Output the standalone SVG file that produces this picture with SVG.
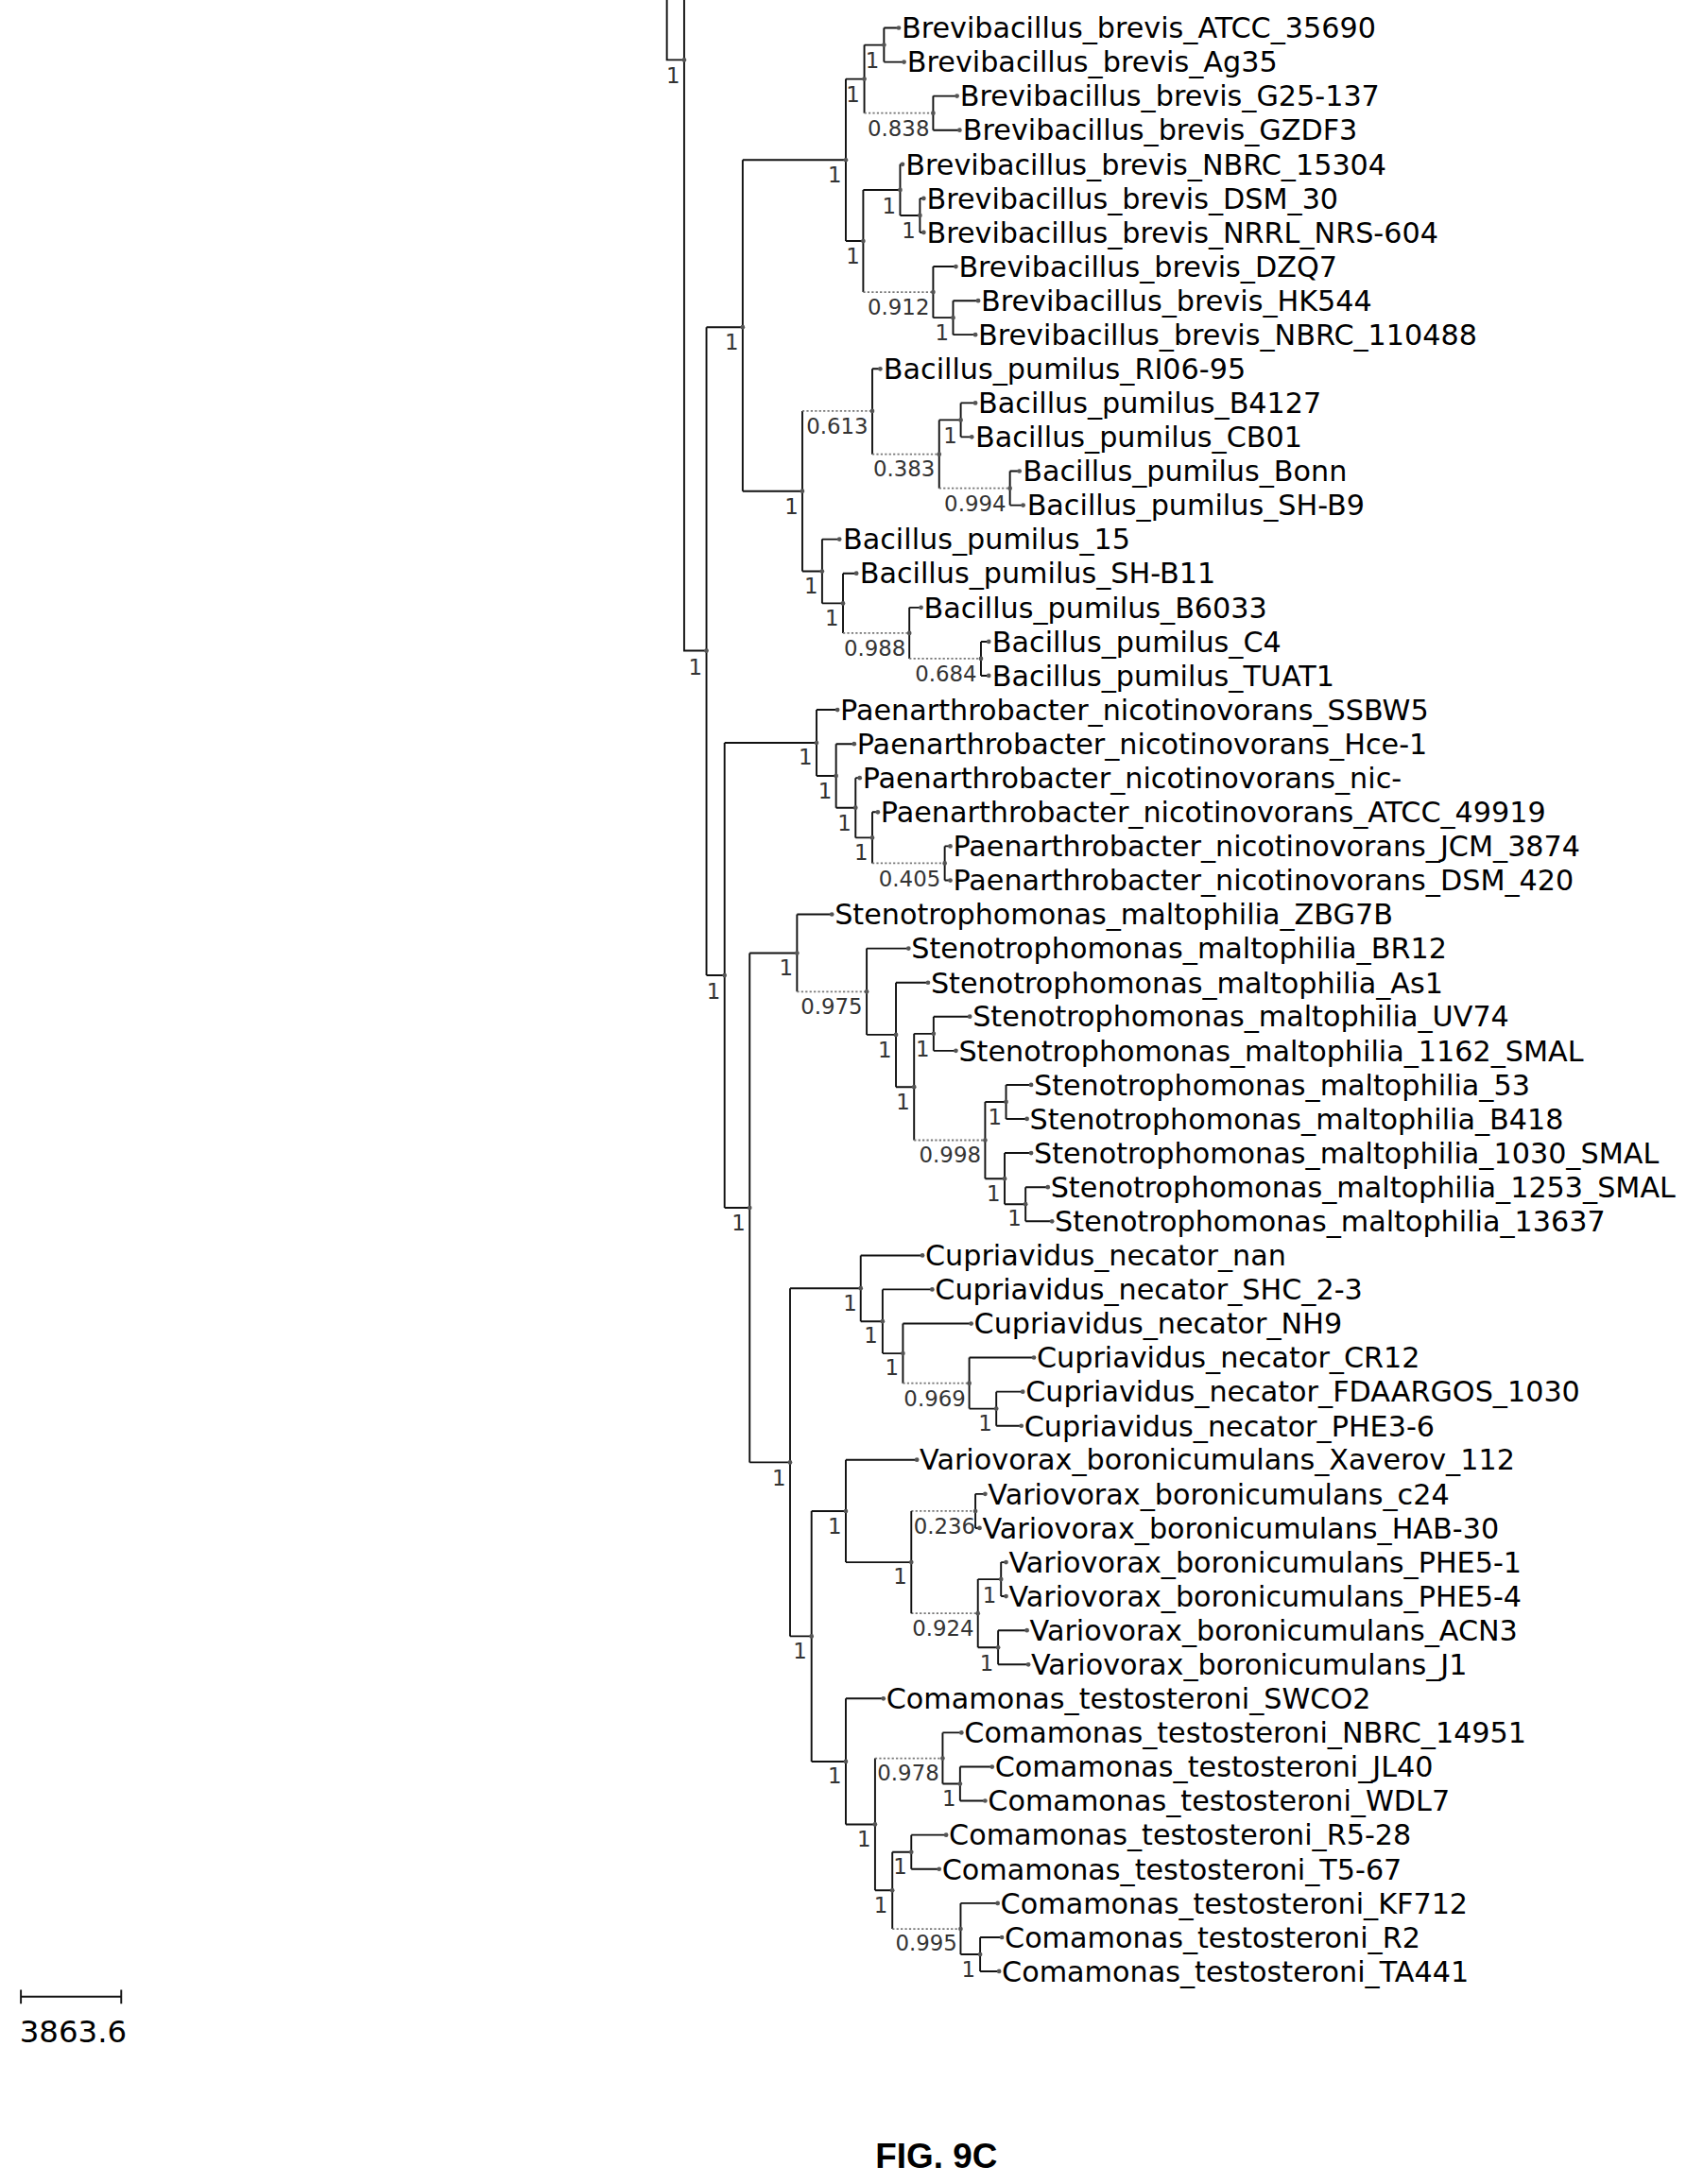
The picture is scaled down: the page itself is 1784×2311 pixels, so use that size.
<svg xmlns="http://www.w3.org/2000/svg" width="1784" height="2311" viewBox="0 0 1784 2311">
<style>
.s{fill:none;stroke:#111;stroke-width:1.3}
.d{fill:none;stroke:#777;stroke-width:1.2;stroke-dasharray:1.5 1.5}
.lf{font-family:"DejaVu Sans",sans-serif;font-size:20.5px;fill:#000}
.sp{font-family:"DejaVu Sans",sans-serif;font-size:15.5px;fill:#333;text-anchor:end}
.dt{fill:#555}
</style>
<rect width="1784" height="2311" fill="#fff"/>
<g transform="scale(1.4744)">
<g id="connectors">
<path class="s" d="M478.6 0V43H491M491 0V467H507"/>
<path class="s" d="M507 234.8V700M507 234.8H533M507 700H520"/>
<path class="s" d="M520 533.1V866.8M520 533.1H586M520 866.8H538"/>
<path class="s" d="M538 684V1049.5M538 684H572M538 1049.5H567"/>
<path class="s" d="M567 924.6V1174.3M567 924.6H617.7M567 1174.3H582.4"/>
<path class="s" d="M533 114.8V352.5M533 114.8H607M533 352.5H575.8"/>
<path class="s" d="M607 56.7V173M607 56.7H620.3M607 173H619.5"/>
<path class="s" d="M620.3 32.3V81.2M620.3 32.3H634.4"/><path class="d" d="M620.3 81.2H669.7"/>
<path class="s" d="M634.4 20V44.5M634.4 20H645M634.4 44.5H648.8"/>
<path class="s" d="M669.7 68.9V93.4M669.7 68.9H686.8M669.7 93.4H688.7"/>
<path class="s" d="M619.5 136.3V209.6M619.5 136.3H646"/><path class="d" d="M619.5 209.6H669.7"/>
<path class="s" d="M646 117.9V154.6M646 117.9H647.7M646 154.6H660.2"/>
<path class="s" d="M660.2 142.4V166.8M660.2 142.4H662.9M660.2 166.8H662.9"/>
<path class="s" d="M669.7 191.3V228M669.7 191.3H686M669.7 228H684"/>
<path class="s" d="M684 215.8V240.2M684 215.8H702M684 240.2H700"/>
<path class="s" d="M575.8 295V410M575.8 410H590"/><path class="d" d="M575.8 295H626"/>
<path class="s" d="M626 264.7V326M626 264.7H631.7"/><path class="d" d="M626 326H674"/>
<path class="s" d="M674 301.4V350.4M674 301.4H689.5"/><path class="d" d="M674 350.4H724.8"/>
<path class="s" d="M689.5 289.2V313.6M689.5 289.2H700M689.5 313.6H697.4"/>
<path class="s" d="M724.8 338.1V362.6M724.8 338.1H731.6M724.8 362.6H734.3"/>
<path class="s" d="M590 387V433M590 387H602.4M590 433H605"/>
<path class="s" d="M605 411.5V454.4M605 411.5H614.6"/><path class="d" d="M605 454.4H652.6"/>
<path class="s" d="M652.6 436V472.7M652.6 436H661"/><path class="d" d="M652.6 472.7H704"/>
<path class="s" d="M704 460.5V484.9M704 460.5H709.6M704 484.9H709.6"/>
<path class="s" d="M586 509.4V556.8M586 509.4H601M586 556.8H600"/>
<path class="s" d="M600 533.9V579.7M600 533.9H613M600 579.7H614"/>
<path class="s" d="M614 558.3V601.2M614 558.3H617M614 601.2H626"/>
<path class="s" d="M626 582.8V619.5M626 582.8H630"/><path class="d" d="M626 619.5H678"/>
<path class="s" d="M678 607.3V631.8M678 607.3H682M678 631.8H682"/>
<path class="s" d="M572 656.2V711.7M572 656.2H597"/><path class="d" d="M572 711.7H622"/>
<path class="s" d="M622 680.7V742.6M622 680.7H652M622 742.6H643"/>
<path class="s" d="M643 705.2V780.1M643 705.2H666M643 780.1H656"/>
<path class="s" d="M656 741.9V818.3M656 741.9H670"/><path class="d" d="M656 818.3H707"/>
<path class="s" d="M670 729.6V754.1M670 729.6H696M670 754.1H686"/>
<path class="s" d="M707 790.8V845.9M707 790.8H722M707 845.9H721"/>
<path class="s" d="M722 778.6V803M722 778.6H740M722 803H737"/>
<path class="s" d="M721 827.5V864.2M721 827.5H740M721 864.2H736"/>
<path class="s" d="M736 852V876.5M736 852H752M736 876.5H755"/>
<path class="s" d="M617.7 901V948.3M617.7 901H662M617.7 948.3H633.4"/>
<path class="s" d="M633.4 925.4V971.3M633.4 925.4H669M633.4 971.3H648"/>
<path class="s" d="M648 949.9V992.7M648 949.9H697"/><path class="d" d="M648 992.7H695.6"/>
<path class="s" d="M695.6 974.3V1011M695.6 974.3H742M695.6 1011H715"/>
<path class="s" d="M715 998.8V1023.3M715 998.8H734M715 1023.3H733"/>
<path class="s" d="M582.4 1084.5V1264.2M582.4 1084.5H607M582.4 1264.2H607"/>
<path class="s" d="M607 1047.7V1121.2M607 1047.7H658M607 1121.2H654"/>
<path class="d" d="M654 1084.5H700M654 1157.9H701.8"/><path class="s" d="M654 1084.5V1157.9"/>
<path class="s" d="M700 1072.2V1096.7M700 1072.2H707M700 1096.7H703"/>
<path class="s" d="M701.8 1133.4V1182.4M701.8 1133.4H718.4M701.8 1182.4H716.3"/>
<path class="s" d="M718.4 1121.2V1145.6M718.4 1121.2H722M718.4 1145.6H722"/>
<path class="s" d="M716.3 1170.1V1194.6M716.3 1170.1H737M716.3 1194.6H738"/>
<path class="s" d="M607 1219V1309.3M607 1219H634M607 1309.3H628"/>
<path class="s" d="M628 1261.9V1356.7M628 1356.7H640.4"/><path class="d" d="M628 1261.9H676.5"/>
<path class="s" d="M676.5 1243.5V1280.2M676.5 1243.5H690M676.5 1280.2H689"/>
<path class="s" d="M689 1268V1292.4M689 1268H712M689 1292.4H707"/>
<path class="s" d="M640.4 1329.2V1384.3M640.4 1329.2H654"/><path class="d" d="M640.4 1384.3H689.4"/>
<path class="s" d="M654 1316.9V1341.4M654 1316.9H679M654 1341.4H674"/>
<path class="s" d="M689.4 1365.9V1402.6M689.4 1365.9H716M689.4 1402.6H703.4"/>
<path class="s" d="M703.4 1390.4V1414.8M703.4 1390.4H719M703.4 1414.8H717"/>
</g>
<g id="nodes" class="dt">
<g id="inner"><circle cx="491" cy="43" r="1.6"/><circle cx="507" cy="467" r="1.6"/><circle cx="520" cy="700" r="1.6"/><circle cx="538" cy="866.8" r="1.6"/><circle cx="567" cy="1049.5" r="1.6"/><circle cx="533" cy="234.8" r="1.6"/><circle cx="607" cy="114.8" r="1.6"/><circle cx="620.3" cy="56.7" r="1.6"/><circle cx="634.4" cy="32.3" r="1.6"/><circle cx="669.7" cy="81.2" r="1.6"/><circle cx="619.5" cy="173" r="1.6"/><circle cx="646" cy="136.3" r="1.6"/><circle cx="660.2" cy="154.6" r="1.6"/><circle cx="669.7" cy="209.6" r="1.6"/><circle cx="684" cy="228" r="1.6"/><circle cx="575.8" cy="352.5" r="1.6"/><circle cx="626" cy="295" r="1.6"/><circle cx="674" cy="326" r="1.6"/><circle cx="689.5" cy="301.4" r="1.6"/><circle cx="724.8" cy="350.4" r="1.6"/><circle cx="590" cy="410" r="1.6"/><circle cx="605" cy="433" r="1.6"/><circle cx="652.6" cy="454.4" r="1.6"/><circle cx="704" cy="472.7" r="1.6"/><circle cx="586" cy="533.1" r="1.6"/><circle cx="600" cy="556.8" r="1.6"/><circle cx="614" cy="579.7" r="1.6"/><circle cx="626" cy="601.2" r="1.6"/><circle cx="678" cy="619.5" r="1.6"/><circle cx="572" cy="684" r="1.6"/><circle cx="622" cy="711.7" r="1.6"/><circle cx="643" cy="742.6" r="1.6"/><circle cx="656" cy="780.1" r="1.6"/><circle cx="670" cy="741.9" r="1.6"/><circle cx="707" cy="818.3" r="1.6"/><circle cx="722" cy="790.8" r="1.6"/><circle cx="721" cy="845.9" r="1.6"/><circle cx="736" cy="864.2" r="1.6"/><circle cx="617.7" cy="924.6" r="1.6"/><circle cx="633.4" cy="948.3" r="1.6"/><circle cx="648" cy="971.3" r="1.6"/><circle cx="695.6" cy="992.7" r="1.6"/><circle cx="715" cy="1011" r="1.6"/><circle cx="582.4" cy="1174.3" r="1.6"/><circle cx="607" cy="1084.5" r="1.6"/><circle cx="654" cy="1121.2" r="1.6"/><circle cx="700" cy="1084.5" r="1.6"/><circle cx="701.8" cy="1157.9" r="1.6"/><circle cx="718.4" cy="1133.4" r="1.6"/><circle cx="716.3" cy="1182.4" r="1.6"/><circle cx="607" cy="1264.2" r="1.6"/><circle cx="628" cy="1309.3" r="1.6"/><circle cx="676.5" cy="1261.9" r="1.6"/><circle cx="689" cy="1280.2" r="1.6"/><circle cx="640.4" cy="1356.7" r="1.6"/><circle cx="654" cy="1329.2" r="1.6"/><circle cx="689.4" cy="1384.3" r="1.6"/><circle cx="703.4" cy="1402.6" r="1.6"/></g>
<g id="support" class="sp">
<text x="488" y="60">1</text><text x="504" y="484">1</text><text x="517" y="717">1</text><text x="535" y="883">1</text><text x="564" y="1066">1</text>
<text x="530" y="251">1</text><text x="604" y="131">1</text><text x="617" y="73">1</text><text x="631" y="49">1</text><text x="667" y="98">0.838</text><text x="617" y="189">1</text><text x="643" y="153">1</text><text x="657" y="171">1</text><text x="667" y="226">0.912</text><text x="681" y="244">1</text>
<text x="573" y="369">1</text><text x="623" y="311">0.613</text><text x="671" y="342">0.383</text><text x="687" y="318">1</text><text x="722" y="367">0.994</text><text x="587" y="426">1</text><text x="602" y="449">1</text><text x="650" y="471">0.988</text><text x="701" y="489">0.684</text>
<text x="583" y="549">1</text><text x="597" y="573">1</text><text x="611" y="596">1</text><text x="623" y="617">1</text><text x="675" y="636">0.405</text>
<text x="569" y="700">1</text><text x="619" y="728">0.975</text><text x="640" y="759">1</text><text x="653" y="796">1</text><text x="667" y="758">1</text><text x="704" y="834">0.998</text><text x="719" y="807">1</text><text x="718" y="862">1</text><text x="733" y="880">1</text>
<text x="615" y="941">1</text><text x="630" y="964">1</text><text x="645" y="987">1</text><text x="693" y="1009">0.969</text><text x="712" y="1027">1</text>
<text x="579" y="1190">1</text><text x="604" y="1101">1</text><text x="651" y="1137">1</text><text x="700" y="1101">0.236</text><text x="699" y="1174">0.924</text><text x="715" y="1150">1</text><text x="713" y="1199">1</text>
<text x="604" y="1280">1</text><text x="625" y="1325">1</text><text x="674" y="1278">0.978</text><text x="686" y="1296">1</text><text x="637" y="1373">1</text><text x="651" y="1345">1</text><text x="687" y="1400">0.995</text><text x="700" y="1419">1</text>
</g>
</g>
<g id="leaves" class="lf">
<g id="l0"><circle class="dt" cx="645" cy="20" r="1.6"/><text x="647" y="27.3">Brevibacillus_brevis_ATCC_35690</text></g>
<g id="l1"><circle class="dt" cx="648.8" cy="44.5" r="1.6"/><text x="651" y="51.8">Brevibacillus_brevis_Ag35</text></g>
<g id="l2"><circle class="dt" cx="686.8" cy="68.9" r="1.6"/><text x="689" y="76.2">Brevibacillus_brevis_G25-137</text></g>
<g id="l3"><circle class="dt" cx="688.7" cy="93.4" r="1.6"/><text x="691" y="100.7">Brevibacillus_brevis_GZDF3</text></g>
<g id="l4"><circle class="dt" cx="647.7" cy="117.9" r="1.6"/><text x="650" y="125.2">Brevibacillus_brevis_NBRC_15304</text></g>
<g id="l5"><circle class="dt" cx="662.9" cy="142.4" r="1.6"/><text x="665" y="149.7">Brevibacillus_brevis_DSM_30</text></g>
<g id="l6"><circle class="dt" cx="662.9" cy="166.8" r="1.6"/><text x="665" y="174.1">Brevibacillus_brevis_NRRL_NRS-604</text></g>
<g id="l7"><circle class="dt" cx="686" cy="191.3" r="1.6"/><text x="688" y="198.6">Brevibacillus_brevis_DZQ7</text></g>
<g id="l8"><circle class="dt" cx="702" cy="215.8" r="1.6"/><text x="704" y="223.1">Brevibacillus_brevis_HK544</text></g>
<g id="l9"><circle class="dt" cx="700" cy="240.2" r="1.6"/><text x="702" y="247.5">Brevibacillus_brevis_NBRC_110488</text></g>
<g id="l10"><circle class="dt" cx="631.7" cy="264.7" r="1.6"/><text x="634" y="272">Bacillus_pumilus_RI06-95</text></g>
<g id="l11"><circle class="dt" cx="700" cy="289.2" r="1.6"/><text x="702" y="296.5">Bacillus_pumilus_B4127</text></g>
<g id="l12"><circle class="dt" cx="697.4" cy="313.6" r="1.6"/><text x="700" y="320.9">Bacillus_pumilus_CB01</text></g>
<g id="l13"><circle class="dt" cx="731.6" cy="338.1" r="1.6"/><text x="734" y="345.4">Bacillus_pumilus_Bonn</text></g>
<g id="l14"><circle class="dt" cx="734.3" cy="362.6" r="1.6"/><text x="737" y="369.9">Bacillus_pumilus_SH-B9</text></g>
<g id="l15"><circle class="dt" cx="602.4" cy="387" r="1.6"/><text x="605" y="394.3">Bacillus_pumilus_15</text></g>
<g id="l16"><circle class="dt" cx="614.6" cy="411.5" r="1.6"/><text x="617" y="418.8">Bacillus_pumilus_SH-B11</text></g>
<g id="l17"><circle class="dt" cx="661" cy="436" r="1.6"/><text x="663" y="443.3">Bacillus_pumilus_B6033</text></g>
<g id="l18"><circle class="dt" cx="709.6" cy="460.5" r="1.6"/><text x="712" y="467.8">Bacillus_pumilus_C4</text></g>
<g id="l19"><circle class="dt" cx="709.6" cy="484.9" r="1.6"/><text x="712" y="492.2">Bacillus_pumilus_TUAT1</text></g>
<g id="l20"><circle class="dt" cx="601" cy="509.4" r="1.6"/><text x="603" y="516.7">Paenarthrobacter_nicotinovorans_SSBW5</text></g>
<g id="l21"><circle class="dt" cx="613" cy="533.9" r="1.6"/><text x="615" y="541.2">Paenarthrobacter_nicotinovorans_Hce-1</text></g>
<g id="l22"><circle class="dt" cx="617" cy="558.3" r="1.6"/><text x="619" y="565.6">Paenarthrobacter_nicotinovorans_nic-</text></g>
<g id="l23"><circle class="dt" cx="630" cy="582.8" r="1.6"/><text x="632" y="590.1">Paenarthrobacter_nicotinovorans_ATCC_49919</text></g>
<g id="l24"><circle class="dt" cx="682" cy="607.3" r="1.6"/><text x="684" y="614.6">Paenarthrobacter_nicotinovorans_JCM_3874</text></g>
<g id="l25"><circle class="dt" cx="682" cy="631.8" r="1.6"/><text x="684" y="639.1">Paenarthrobacter_nicotinovorans_DSM_420</text></g>
<g id="l26"><circle class="dt" cx="597" cy="656.2" r="1.6"/><text x="599" y="663.5">Stenotrophomonas_maltophilia_ZBG7B</text></g>
<g id="l27"><circle class="dt" cx="652" cy="680.7" r="1.6"/><text x="654" y="688">Stenotrophomonas_maltophilia_BR12</text></g>
<g id="l28"><circle class="dt" cx="666" cy="705.2" r="1.6"/><text x="668" y="712.5">Stenotrophomonas_maltophilia_As1</text></g>
<g id="l29"><circle class="dt" cx="696" cy="729.6" r="1.6"/><text x="698" y="736.9">Stenotrophomonas_maltophilia_UV74</text></g>
<g id="l30"><circle class="dt" cx="686" cy="754.1" r="1.6"/><text x="688" y="761.4">Stenotrophomonas_maltophilia_1162_SMAL</text></g>
<g id="l31"><circle class="dt" cx="740" cy="778.6" r="1.6"/><text x="742" y="785.9">Stenotrophomonas_maltophilia_53</text></g>
<g id="l32"><circle class="dt" cx="737" cy="803" r="1.6"/><text x="739" y="810.3">Stenotrophomonas_maltophilia_B418</text></g>
<g id="l33"><circle class="dt" cx="740" cy="827.5" r="1.6"/><text x="742" y="834.8">Stenotrophomonas_maltophilia_1030_SMAL</text></g>
<g id="l34"><circle class="dt" cx="752" cy="852" r="1.6"/><text x="754" y="859.3">Stenotrophomonas_maltophilia_1253_SMAL</text></g>
<g id="l35"><circle class="dt" cx="755" cy="876.5" r="1.6"/><text x="757" y="883.8">Stenotrophomonas_maltophilia_13637</text></g>
<g id="l36"><circle class="dt" cx="662" cy="901" r="1.6"/><text x="664" y="908.3">Cupriavidus_necator_nan</text></g>
<g id="l37"><circle class="dt" cx="669" cy="925.4" r="1.6"/><text x="671" y="932.7">Cupriavidus_necator_SHC_2-3</text></g>
<g id="l38"><circle class="dt" cx="697" cy="949.9" r="1.6"/><text x="699" y="957.2">Cupriavidus_necator_NH9</text></g>
<g id="l39"><circle class="dt" cx="742" cy="974.3" r="1.6"/><text x="744" y="981.6">Cupriavidus_necator_CR12</text></g>
<g id="l40"><circle class="dt" cx="734" cy="998.8" r="1.6"/><text x="736" y="1006.1">Cupriavidus_necator_FDAARGOS_1030</text></g>
<g id="l41"><circle class="dt" cx="733" cy="1023.3" r="1.6"/><text x="735" y="1030.6">Cupriavidus_necator_PHE3-6</text></g>
<g id="l42"><circle class="dt" cx="658" cy="1047.7" r="1.6"/><text x="660" y="1055">Variovorax_boronicumulans_Xaverov_112</text></g>
<g id="l43"><circle class="dt" cx="707" cy="1072.2" r="1.6"/><text x="709" y="1079.5">Variovorax_boronicumulans_c24</text></g>
<g id="l44"><circle class="dt" cx="703" cy="1096.7" r="1.6"/><text x="705" y="1104">Variovorax_boronicumulans_HAB-30</text></g>
<g id="l45"><circle class="dt" cx="722" cy="1121.2" r="1.6"/><text x="724" y="1128.5">Variovorax_boronicumulans_PHE5-1</text></g>
<g id="l46"><circle class="dt" cx="722" cy="1145.6" r="1.6"/><text x="724" y="1152.9">Variovorax_boronicumulans_PHE5-4</text></g>
<g id="l47"><circle class="dt" cx="737" cy="1170.1" r="1.6"/><text x="739" y="1177.4">Variovorax_boronicumulans_ACN3</text></g>
<g id="l48"><circle class="dt" cx="738" cy="1194.6" r="1.6"/><text x="740" y="1201.9">Variovorax_boronicumulans_J1</text></g>
<g id="l49"><circle class="dt" cx="634" cy="1219" r="1.6"/><text x="636" y="1226.3">Comamonas_testosteroni_SWCO2</text></g>
<g id="l50"><circle class="dt" cx="690" cy="1243.5" r="1.6"/><text x="692" y="1250.8">Comamonas_testosteroni_NBRC_14951</text></g>
<g id="l51"><circle class="dt" cx="712" cy="1268" r="1.6"/><text x="714" y="1275.3">Comamonas_testosteroni_JL40</text></g>
<g id="l52"><circle class="dt" cx="707" cy="1292.4" r="1.6"/><text x="709" y="1299.7">Comamonas_testosteroni_WDL7</text></g>
<g id="l53"><circle class="dt" cx="679" cy="1316.9" r="1.6"/><text x="681" y="1324.2">Comamonas_testosteroni_R5-28</text></g>
<g id="l54"><circle class="dt" cx="674" cy="1341.4" r="1.6"/><text x="676" y="1348.7">Comamonas_testosteroni_T5-67</text></g>
<g id="l55"><circle class="dt" cx="716" cy="1365.9" r="1.6"/><text x="718" y="1373.2">Comamonas_testosteroni_KF712</text></g>
<g id="l56"><circle class="dt" cx="719" cy="1390.4" r="1.6"/><text x="721" y="1397.7">Comamonas_testosteroni_R2</text></g>
<g id="l57"><circle class="dt" cx="717" cy="1414.8" r="1.6"/><text x="719" y="1422.1">Comamonas_testosteroni_TA441</text></g>
</g>
<g id="scale">
<path class="s" d="M15 1433H87M15 1428V1438M87 1428V1438"/>
<text x="14" y="1466" style="font-family:'DejaVu Sans',sans-serif;font-size:22px">3863.6</text>
</g>
<text x="672" y="1556" text-anchor="middle" style="font-family:'Liberation Sans',Arial,sans-serif;font-size:25px;font-weight:bold">FIG. 9C</text>
</g>
</svg>
